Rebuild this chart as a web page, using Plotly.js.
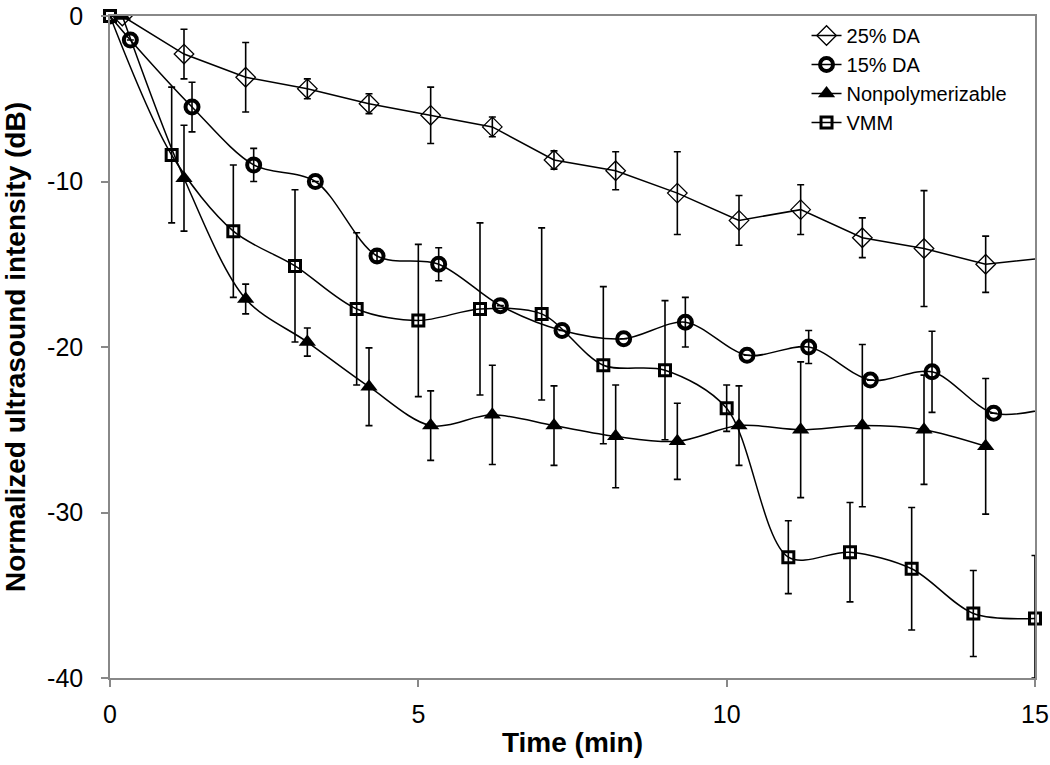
<!DOCTYPE html>
<html>
<head>
<meta charset="utf-8">
<script src="https://cdn.plot.ly/plotly-3.0.1.min.js"></script>
<style>
  body { margin: 0; background: #fff; }
  #chart { width: 1050px; height: 765px; }
</style>
</head>
<body>
<div id="chart"></div>
<script>
// 25% DA
let da25Time = [0.2, 1.2, 2.2, 3.2, 4.2, 5.2, 6.2, 7.2, 8.2, 9.2, 10.2, 11.2, 12.2, 13.2, 14.2, 15.2];
let da25Val  = [0, -2.3, -3.7, -4.4, -5.3, -6.0, -6.7, -8.7, -9.35, -10.7, -12.35, -11.7, -13.4, -14.05, -15.0, -14.6];
let da25Err  = [0, 1.5, 2.1, 0.6, 0.6, 1.7, 0.6, 0.55, 1.15, 2.5, 1.5, 1.5, 1.2, 3.5, 1.7, 0];

// 15% DA
let da15Time = [0, 0.33, 1.33, 2.33, 3.33, 4.33, 5.33, 6.33, 7.33, 8.33, 9.33, 10.33, 11.33, 12.33, 13.33, 14.33, 15.33];
let da15Val  = [0, -1.45, -5.5, -9.0, -10.0, -14.5, -15.0, -17.5, -19.0, -19.5, -18.5, -20.5, -20.0, -22.0, -21.5, -24.0, -23.6];
let da15Err  = [0, 0, 1.5, 1.0, 0, 0.3, 1.0, 0, 0, 0, 1.5, 0, 1.0, 0, 2.45, 0, 0];

// Nonpolymerizable
let nonpTime = [0.2, 1.2, 2.2, 3.2, 4.2, 5.2, 6.2, 7.2, 8.2, 9.2, 10.2, 11.2, 12.2, 13.2, 14.2];
let nonpVal  = [0, -9.8, -17.1, -19.7, -22.4, -24.75, -24.1, -24.75, -25.4, -25.7, -24.75, -25.0, -24.75, -25.0, -26.0];
let nonpErr  = [0, 3.2, 0.9, 0.85, 2.35, 2.1, 3.0, 2.4, 3.1, 2.3, 2.4, 4.1, 4.9, 3.3, 4.1];

// VMM
let vmmTime = [0, 1, 2, 3, 4, 5, 6, 7, 8, 9, 10, 11, 12, 13, 14, 15];
let vmmVal  = [0, -8.4, -13.0, -15.1, -17.7, -18.4, -17.7, -18.0, -21.1, -21.4, -23.7, -32.7, -32.4, -33.4, -36.1, -36.4];
let vmmErr  = [0, 4.1, 4.0, 4.6, 4.6, 4.6, 5.2, 5.2, 4.75, 4.2, 1.4, 2.2, 3.0, 3.7, 2.6, 3.8];
let vmmErrMinus = [0, 4.1, 4.0, 4.6, 4.6, 4.6, 5.2, 5.2, 4.75, 4.2, 1.4, 2.2, 3.0, 3.7, 2.6, 3.6];

let xTicks = [0, 5, 10, 15];
let yTicks = [0, -10, -20, -30, -40];
let yTickText = ['0', '-10', '-20', '-30', '-40'];

function errBars(arr, minus) {
  return {
    type: 'data', array: arr, arrayminus: minus || arr, symmetric: false, visible: true,
    color: '#000', thickness: 1.6, width: 3.5
  };
}

let traces = [
  {
    x: da25Time, y: da25Val, error_y: errBars(da25Err),
    type: 'scatter', mode: 'lines+markers', name: '25% DA',
    line: { color: '#000', width: 1.5 },
    marker: { symbol: 'diamond-open', size: 15, color: '#000', line: { width: 1.3 } },
    cliponaxis: true
  },
  {
    x: da15Time, y: da15Val, error_y: errBars(da15Err),
    type: 'scatter', mode: 'lines+markers', name: '15% DA',
    line: { color: '#000', width: 1.5, shape: 'spline', smoothing: 0.9 },
    marker: { symbol: 'circle-open', size: 13, color: '#000', line: { width: 4 } },
    cliponaxis: true
  },
  {
    x: nonpTime, y: nonpVal, error_y: errBars(nonpErr),
    type: 'scatter', mode: 'lines+markers', name: 'Nonpolymerizable',
    line: { color: '#000', width: 1.5, shape: 'spline', smoothing: 0.9 },
    marker: { symbol: 'triangle-up', size: 15, color: '#000' },
    cliponaxis: true
  },
  {
    x: vmmTime, y: vmmVal, error_y: errBars(vmmErr, vmmErrMinus),
    type: 'scatter', mode: 'lines+markers', name: 'VMM',
    line: { color: '#000', width: 1.5, shape: 'spline', smoothing: 0.9 },
    marker: { symbol: 'square-open', size: 11, color: '#000', line: { width: 3 } },
    cliponaxis: false
  }
];

let layout = {
  width: 1050,
  height: 765,
  margin: { l: 110, r: 15, t: 16, b: 87 },
  paper_bgcolor: '#fff',
  plot_bgcolor: '#fff',
  font: { family: 'Liberation Sans, Arial, sans-serif', color: '#000' },
  showlegend: true,
  legend: {
    x: 0.753, y: 1.0, xanchor: 'left', yanchor: 'top',
    bgcolor: 'rgba(0,0,0,0)',
    font: { size: 20 },
    tracegroupgap: 0
  },
  xaxis: {
    range: [0, 15],
    tickvals: xTicks,
    ticks: 'outside', ticklen: 7, tickcolor: '#888', tickwidth: 1.5,
    ticklabelstandoff: 6,
    ticklabeloverflow: 'allow',
    showline: true, linecolor: '#888', linewidth: 1.5, mirror: true,
    showgrid: false, zeroline: false,
    tickfont: { size: 25 },
    title: { text: '<b>Time (min)</b>', font: { size: 28 }, standoff: 6 }
  },
  yaxis: {
    range: [-40, 0],
    tickvals: yTicks,
    ticktext: yTickText,
    ticks: 'outside', ticklen: 7, tickcolor: '#888', tickwidth: 1.5,
    ticklabelstandoff: 13,
    ticklabeloverflow: 'allow',
    showline: true, linecolor: '#888', linewidth: 1.5, mirror: true,
    showgrid: false, zeroline: false,
    tickfont: { size: 25 },
    title: { text: '<b>Normalized ultrasound intensity (dB)</b>', font: { size: 28 }, standoff: 14 }
  }
};

Plotly.newPlot('chart', traces, layout, { displayModeBar: false });
</script>
</body>
</html>
